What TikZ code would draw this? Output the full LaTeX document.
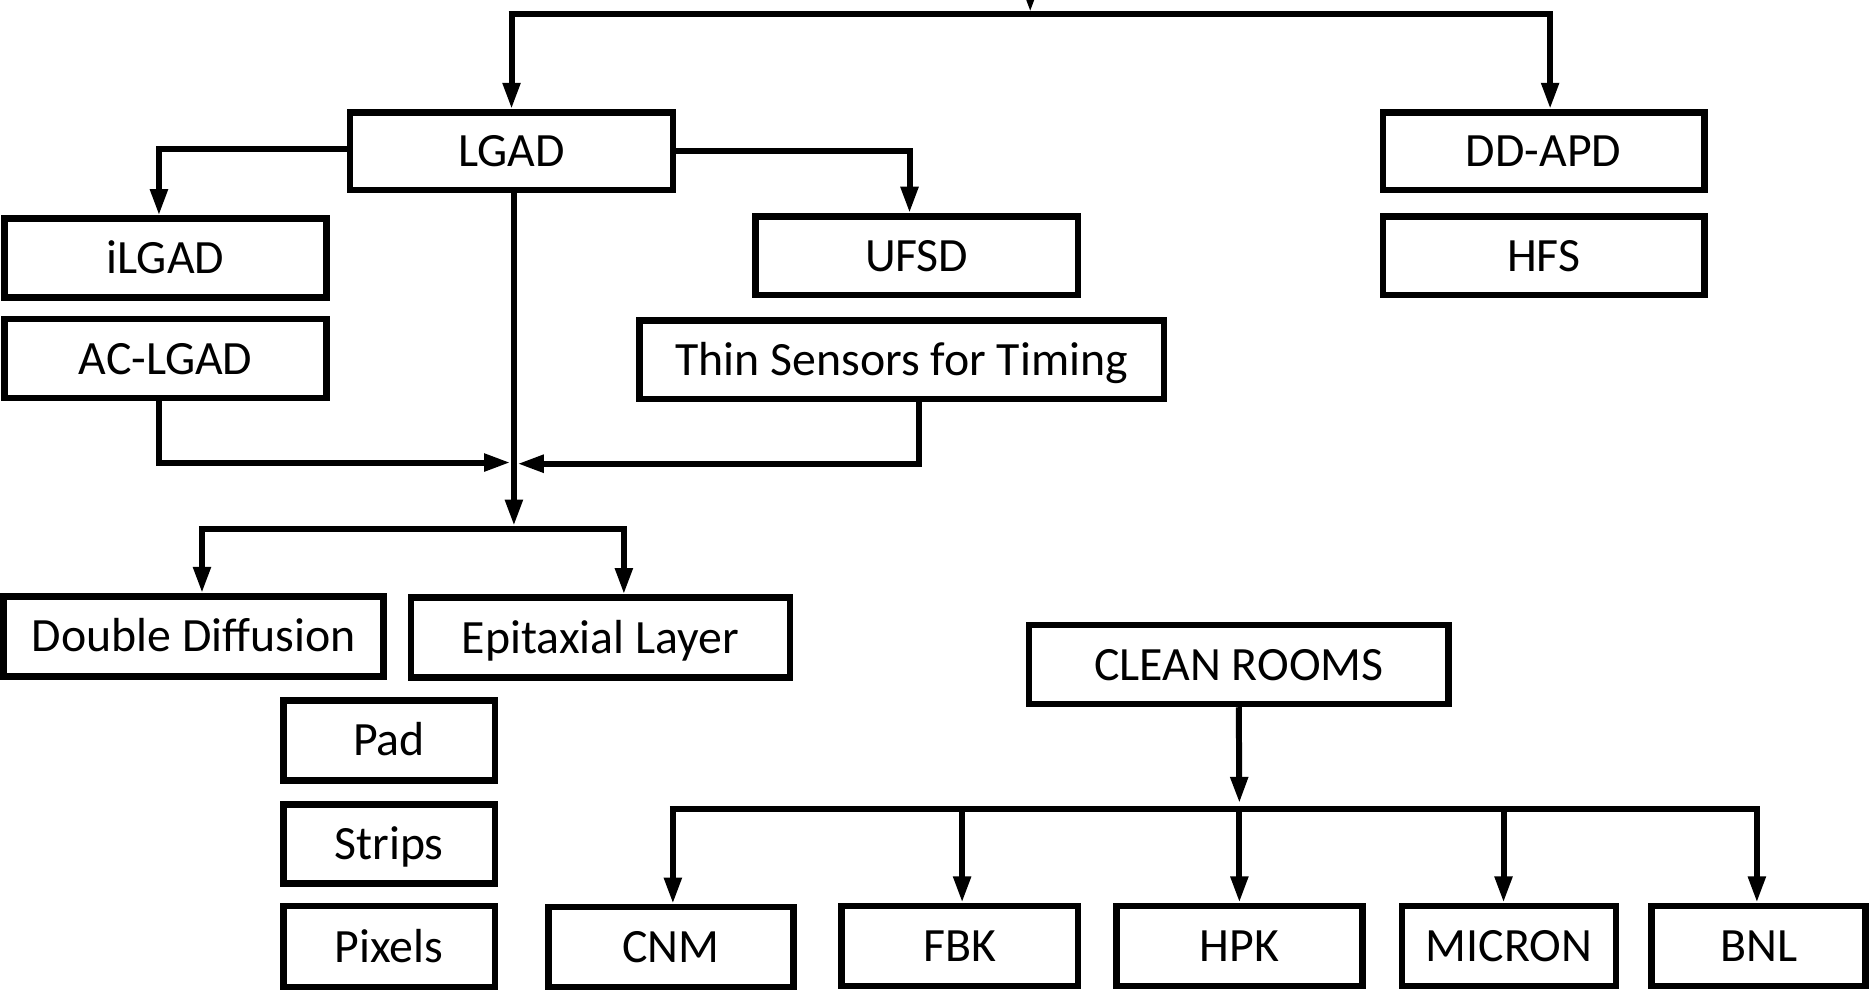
\documentclass[tikz,border=0pt]{standalone}
\usepackage{fontspec}
\setmainfont{Carlito}
\usetikzlibrary{arrows.meta}
\tikzset{
  box/.style={draw=black, line width=5.5pt, rectangle, inner sep=0pt, fill=white,
              font=\fontsize{40}{48}\selectfont, text height=26pt, text depth=0pt},
  conn/.style={draw=black, line width=5pt},
  arr/.style={conn, -{Triangle[length=22pt,width=14pt]}}
}
\begin{document}
\begin{tikzpicture}[x=1pt,y=-1pt]
\useasboundingbox (0,0) rectangle (1568,833);
% nodes
\node[box, minimum width=270pt, minimum height=65pt] (lgad) at (428,126.5) {LGAD};
\node[box, minimum width=269pt, minimum height=65pt] (ddapd) at (1291.5,126.5) {DD-APD};
\node[box, minimum width=269pt, minimum height=66pt] (hfs) at (1291.5,214) {HFS};
\node[box, minimum width=269pt, minimum height=66pt] (ilgad) at (138.5,216) {iLGAD};
\node[box, minimum width=269pt, minimum height=66pt] (aclgad) at (138.5,300) {AC-LGAD};
\node[box, minimum width=270pt, minimum height=66pt] (ufsd) at (767,214) {UFSD};
\node[box, minimum width=439pt, minimum height=66pt] (thin) at (754.5,301) {Thin Sensors for Timing};
\node[box, minimum width=318pt, minimum height=67pt] (dd) at (162,532.5) {Double Diffusion};
\node[box, minimum width=317pt, minimum height=67pt] (epi) at (502.5,533.5) {Epitaxial Layer};
\node[box, minimum width=177pt, minimum height=67pt] (pad) at (325.5,619.5) {Pad};
\node[box, minimum width=177pt, minimum height=66pt] (strips) at (325.5,706) {Strips};
\node[box, minimum width=177pt, minimum height=68pt] (pixels) at (325.5,792) {Pixels};
\node[box, minimum width=351pt, minimum height=66pt] (clean) at (1036.5,556) {CLEAN ROOMS};
\node[box, minimum width=205pt, minimum height=67pt] (cnm) at (561.5,792.5) {CNM};
\node[box, minimum width=198pt, minimum height=67pt] (fbk) at (803,791.5) {FBK};
\node[box, minimum width=206pt, minimum height=67pt] (hpk) at (1037,791.5) {HPK};
\node[box, minimum width=179pt, minimum height=67pt] (micron) at (1262.5,791.5) {MICRON};
\node[box, minimum width=179pt, minimum height=67pt] (bnl) at (1471.5,791.5) {BNL};
% junction coordinates
\coordinate (topin) at (862,-20);
\coordinate (topmid) at (862,10);
\coordinate (topl) at (428,12);
\coordinate (topr) at (1297,12);
\coordinate (mid) at (430,440);
\coordinate (midl) at (427,387);
\coordinate (midr) at (433,388);
\coordinate (brl) at (169,443);
\coordinate (brr) at (522,443);
\coordinate (crin) at (1037,672);
\coordinate (crl) at (563,677);
\coordinate (crr) at (1470,677);
% top
\draw[arr] (topin) -- (topmid);
\draw[conn] ([xshift=-2.5pt]topl) -- ([xshift=2.5pt]topr);
\draw[arr] (topl) -- (lgad.north);
\draw[arr] (topr) -- ([xshift=5.5pt]ddapd.north);
% LGAD branches
\draw[arr] ([yshift=1.5pt]lgad.west) -| ([xshift=-5.5pt]ilgad.north);
\draw[arr] (lgad.east) -| ([xshift=-6pt]ufsd.north);
\draw[arr] ([xshift=2pt]lgad.south) -- (mid);
\draw[arr] ([xshift=-5.5pt]aclgad.south) |- (midl);
\draw[arr] ([xshift=14.5pt]thin.south) |- (midr);
% LGAD types
\draw[conn] ([xshift=-2.5pt]brl) -- ([xshift=2.5pt]brr);
\draw[arr] (brl) -- ([xshift=7pt]dd.north);
\draw[arr] (brr) -- ([xshift=19.5pt]epi.north);
% clean rooms
\draw[arr] (clean.south) -- (crin);
\draw[conn] ([xshift=-2.5pt]crl) -- ([xshift=2.5pt]crr);
\draw[arr] (crl) -- ([xshift=1.5pt]cnm.north);
\draw[arr] (805,677) -- ([xshift=2pt]fbk.north);
\draw[arr] (1037,677) -- (hpk.north);
\draw[arr] (1258,677) -- ([xshift=-4.5pt]micron.north);
\draw[arr] (crr) -- ([xshift=-1.5pt]bnl.north);
\end{tikzpicture}
\end{document}
